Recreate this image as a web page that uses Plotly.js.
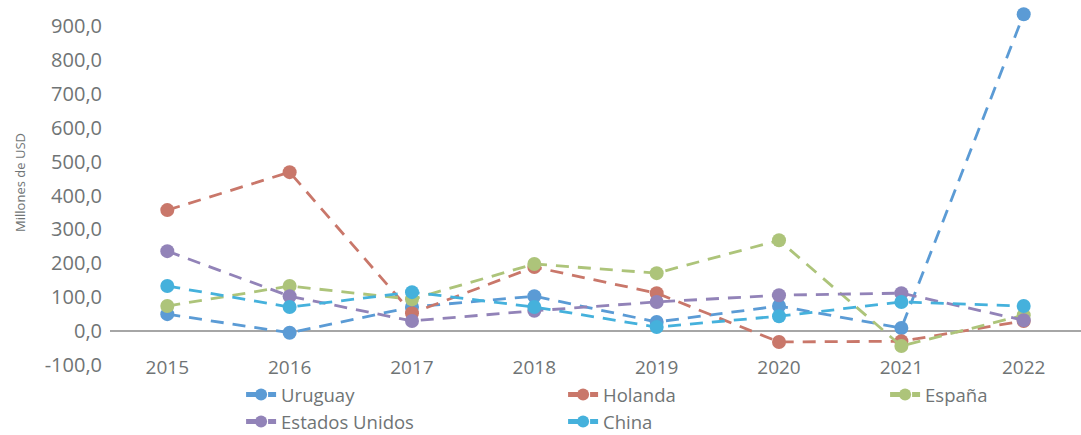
<!DOCTYPE html>
<html>
<head>
<meta charset="utf-8">
<script src="https://cdn.plot.ly/plotly-3.0.1.min.js"></script>
<style>html,body{margin:0;padding:0;background:#fff;}#chart{width:1081px;height:435px;}</style>
</head>
<body>
<div id="chart"></div>
<script>
const years = ['2015','2016','2017','2018','2019','2020','2021','2022'];
const uruguay = [50, -5, 71, 103, 27, 74, 9, 935];
const holanda = [357, 469, 53, 189, 112, -32, -30, 30];
const espana = [74, 133, 94, 198, 171, 268, -44, 47];
const eeuu = [236, 103, 30, 60, 86, 106, 112, 32];
const china = [133, 71, 115, 71, 12, 44, 86, 74];
const seriesNames = ['Uruguay', 'Holanda', 'España', 'Estados Unidos', 'China'];
const seriesData = [uruguay, holanda, espana, eeuu, china];
const colors = ['#5B9BD5', '#C9776A', '#ADC47A', '#9283B8', '#45B1DC'];
const yTickVals = [-100, 0, 100, 200, 300, 400, 500, 600, 700, 800, 900];
const yTickLabels = ['-100,0', '0,0', '100,0', '200,0', '300,0', '400,0', '500,0', '600,0', '700,0', '800,0', '900,0'];

const traces = seriesNames.map((name, i) => ({
  type: 'scatter',
  mode: 'lines+markers',
  name: name,
  x: years,
  y: seriesData[i],
  line: {color: colors[i], width: 2.8, dash: '13px,9px'},
  marker: {color: colors[i], size: 14}
}));

const layout = {
  width: 1081, height: 435,
  margin: {l: 110, r: 0, t: 0, b: 70, autoexpand: false},
  paper_bgcolor: '#fff', plot_bgcolor: '#fff',
  font: {family: '"Open Sans", sans-serif', color: '#6F7475'},
  showlegend: true,
  xaxis: {
    type: 'category', showgrid: false, showline: false, zeroline: false,
    anchor: 'free', position: 0.03,
    tickfont: {size: 19, color: '#6F7475'}, ticks: ''
  },
  yaxis: {
    range: [-100, 977], tickmode: 'array', tickvals: yTickVals, ticktext: yTickLabels,
    showgrid: false, zeroline: true, zerolinecolor: '#A6A6A6', zerolinewidth: 2,
    showline: false, ticks: '', ticklabelstandoff: 7,
    tickfont: {size: 20, color: '#6F7475'},
    title: {text: 'Millones de USD', font: {size: 13, color: '#6F7475'}, standoff: 16}
  },
  legend: {
    orientation: 'h', x: 0.135, xanchor: 'left', y: -0.03, yanchor: 'top',
    font: {size: 18.5, color: '#6F7475'},
    entrywidth: 277, entrywidthmode: 'pixels',
    itemsizing: 'constant', traceorder: 'normal'
  }
};

Plotly.newPlot('chart', traces, layout, {displayModeBar: false, staticPlot: true});
</script>
</body>
</html>
